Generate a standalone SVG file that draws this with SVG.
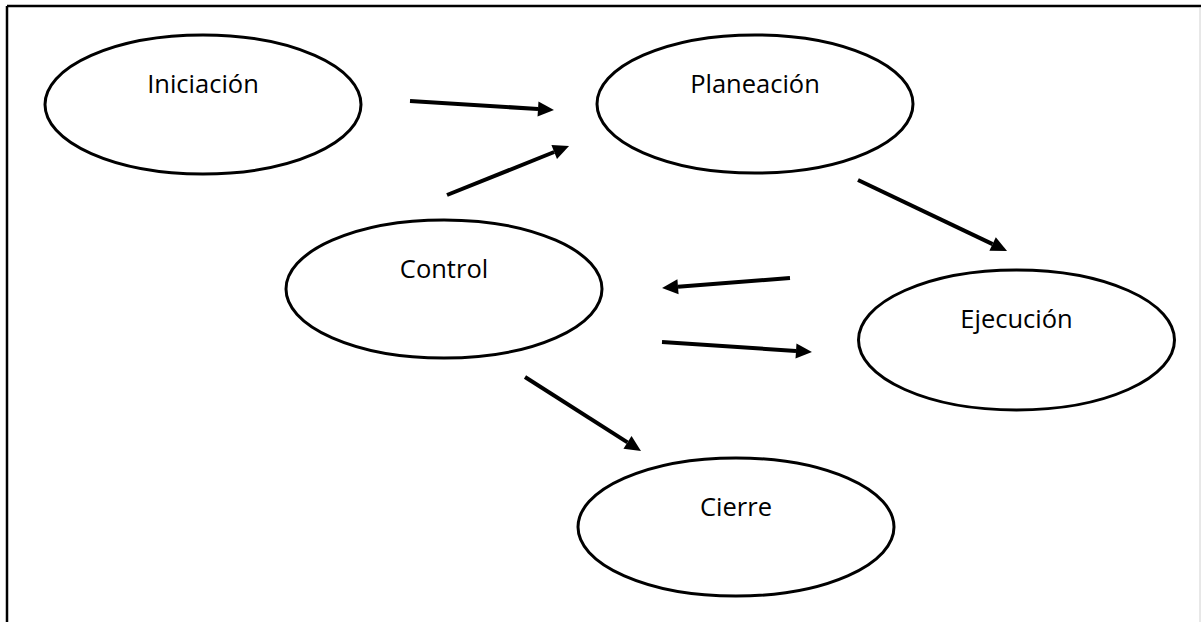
<svg xmlns="http://www.w3.org/2000/svg" width="1201" height="622" viewBox="0 0 1201 622">
  <style>
    .node ellipse { fill: #ffffff; stroke: #000000; stroke-width: 3; }
    .node text { font-family: "Open Sans", "Liberation Sans", sans-serif; font-size: 25.5px; fill: #000000; text-anchor: middle; }
    .conn line { stroke: #000000; stroke-width: 4; marker-end: url(#arrow); }
  </style>
  <defs>
    <marker id="arrow" markerUnits="userSpaceOnUse" viewBox="0 -8 17 16" refX="0" refY="0" markerWidth="17" markerHeight="16" orient="auto" overflow="visible">
      <path d="M0,-7.5 L16,0 L0,7.5 z" fill="#000000"/>
    </marker>
  </defs>
  <rect x="0" y="0" width="1201" height="622" fill="#ffffff"/>
  <g id="frame">
    <line x1="7" y1="6" x2="1201" y2="6" stroke="#000000" stroke-width="2.5"/>
    <line x1="7" y1="6" x2="7" y2="622" stroke="#000000" stroke-width="2.5"/>
    <line x1="1200" y1="8" x2="1200" y2="622" stroke="#d0d0d0" stroke-width="1"/>
  </g>
  <g id="node-iniciacion" class="node">
    <ellipse cx="203" cy="104.5" rx="158" ry="69.5"/>
    <text x="203" y="93">Iniciación</text>
  </g>
  <g id="node-planeacion" class="node">
    <ellipse cx="755" cy="104" rx="158" ry="69"/>
    <text x="755" y="93">Planeación</text>
  </g>
  <g id="node-control" class="node">
    <ellipse cx="444" cy="289" rx="158" ry="69"/>
    <text x="444" y="278">Control</text>
  </g>
  <g id="node-ejecucion" class="node">
    <ellipse cx="1016.5" cy="340" rx="158" ry="70"/>
    <text x="1016.5" y="328">Ejecución</text>
  </g>
  <g id="node-cierre" class="node">
    <ellipse cx="736" cy="527" rx="158" ry="69"/>
    <text x="736" y="516">Cierre</text>
  </g>
  <g id="connectors" class="conn">
    <line x1="410" y1="101" x2="538" y2="109"/>
    <line x1="447" y1="195" x2="554.2" y2="152"/>
    <line x1="858" y1="180" x2="992.6" y2="244.1"/>
    <line x1="790" y1="278" x2="678" y2="286.8"/>
    <line x1="662" y1="342" x2="796" y2="350.9"/>
    <line x1="525" y1="377" x2="627.5" y2="442.4"/>
  </g>
</svg>
